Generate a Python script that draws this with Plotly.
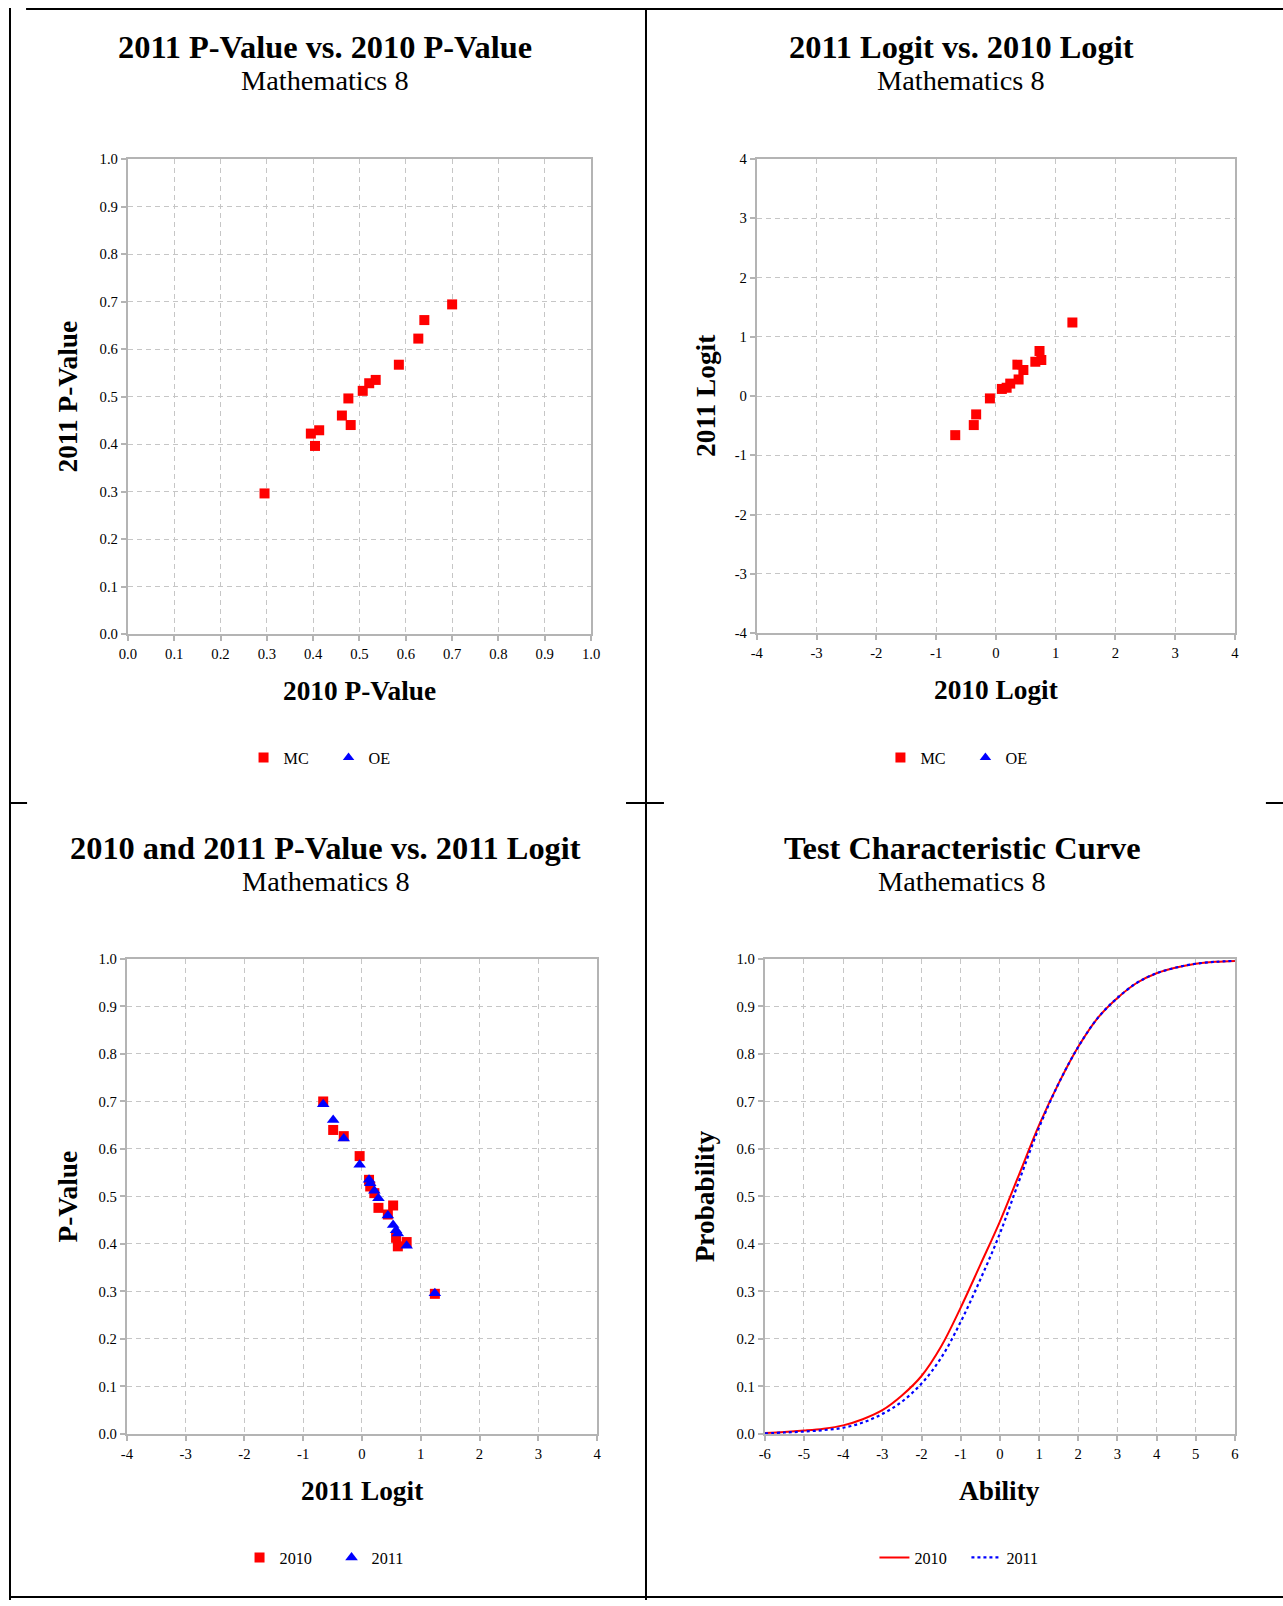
import plotly.graph_objects as go

# Figure fills the window; the photograph frames page pixel p at reference
# pixel (p + 8) * 1283/1299 (x) and (p + 8) * 1606/1622 (y), so reference
# pixel positions are converted with the inverse of that.
W, H = 1283, 1606
FRAME_W, FRAME_H = 1299, 1622
PAD = 8
FONT = "Liberation Serif, Times New Roman, serif"
K = FRAME_W / W   # font scale compensation

# ---------------- data ----------------
p2010 = [0.700, 0.640, 0.627, 0.585, 0.535, 0.521, 0.507, 0.476, 0.462, 0.481, 0.413, 0.395, 0.404, 0.295]
p2011 = [0.694, 0.661, 0.622, 0.567, 0.535, 0.528, 0.512, 0.496, 0.460, 0.440, 0.429, 0.422, 0.396, 0.296]
logit2010 = [-0.68, -0.37, -0.33, -0.10, 0.10, 0.18, 0.24, 0.38, 0.46, 0.36, 0.66, 0.76, 0.73, 1.28]
logit2011 = [-0.66, -0.49, -0.31, -0.04, 0.12, 0.14, 0.21, 0.28, 0.44, 0.53, 0.58, 0.61, 0.76, 1.24]
oe_x = [None]   # no OE items in this test
oe_y = [None]

ability = [-6.0, -5.5, -5.0, -4.5, -4.0, -3.5, -3.0, -2.5, -2.0, -1.5, -1.0, -0.5, 0.0,
           0.5, 1.0, 1.5, 2.0, 2.5, 3.0, 3.5, 4.0, 4.5, 5.0, 5.5, 6.0]
tcc2010 = [0.002, 0.004, 0.007, 0.011, 0.018, 0.031, 0.050, 0.081, 0.122, 0.184, 0.266, 0.356, 0.447,
           0.548, 0.650, 0.738, 0.815, 0.876, 0.918, 0.950, 0.970, 0.982, 0.990, 0.994, 0.996]
tcc2011 = [0.001, 0.003, 0.005, 0.008, 0.013, 0.024, 0.042, 0.068, 0.106, 0.160, 0.236, 0.325, 0.422,
           0.535, 0.645, 0.738, 0.815, 0.876, 0.918, 0.950, 0.970, 0.982, 0.990, 0.994, 0.996]

pv_ticks = [0.0, 0.1, 0.2, 0.3, 0.4, 0.5, 0.6, 0.7, 0.8, 0.9, 1.0]
pv_labels = ["0.0", "0.1", "0.2", "0.3", "0.4", "0.5", "0.6", "0.7", "0.8", "0.9", "1.0"]
logit_ticks = [-4, -3, -2, -1, 0, 1, 2, 3, 4]
logit_labels = ["-4", "-3", "-2", "-1", "0", "1", "2", "3", "4"]
ability_ticks = [-6, -5, -4, -3, -2, -1, 0, 1, 2, 3, 4, 5, 6]
ability_labels = ["-6", "-5", "-4", "-3", "-2", "-1", "0", "1", "2", "3", "4", "5", "6"]

titles = ["2011 P-Value vs. 2010 P-Value", "2011 Logit vs. 2010 Logit",
          "2010 and 2011 P-Value vs. 2011 Logit", "Test Characteristic Curve"]
subtitle = "Mathematics 8"
xtitles = ["2010 P-Value", "2010 Logit", "2011 Logit", "Ability"]
ytitles = ["2011 P-Value", "2011 Logit", "P-Value", "Probability"]

RED = "#ff0000"
BLUE = "#0000ff"


def fx(v):
    return (v * FRAME_W / W - PAD) / W


def fy(v):
    return 1 - (v * FRAME_H / H - PAD) / H


fig = go.Figure()

# panel 1
fig.add_trace(go.Scatter(x=p2010, y=p2011, mode="markers", name="MC",
                         marker=dict(symbol="square", size=10, color=RED),
                         xaxis="x", yaxis="y", legend="legend"))
fig.add_trace(go.Scatter(x=oe_x, y=oe_y, mode="markers", name="OE",
                         marker=dict(symbol="triangle-up", size=10, color=BLUE),
                         xaxis="x", yaxis="y", legend="legend"))
# panel 2
fig.add_trace(go.Scatter(x=logit2010, y=logit2011, mode="markers", name="MC",
                         marker=dict(symbol="square", size=10, color=RED),
                         xaxis="x2", yaxis="y2", legend="legend2"))
fig.add_trace(go.Scatter(x=oe_x, y=oe_y, mode="markers", name="OE",
                         marker=dict(symbol="triangle-up", size=10, color=BLUE),
                         xaxis="x2", yaxis="y2", legend="legend2"))
# panel 3
fig.add_trace(go.Scatter(x=logit2011, y=p2010, mode="markers", name="2010",
                         marker=dict(symbol="square", size=10, color=RED),
                         xaxis="x3", yaxis="y3", legend="legend3"))
fig.add_trace(go.Scatter(x=logit2011, y=p2011, mode="markers", name="2011",
                         marker=dict(symbol="triangle-up", size=11, color=BLUE),
                         xaxis="x3", yaxis="y3", legend="legend3"))
# panel 4
fig.add_trace(go.Scatter(x=ability, y=tcc2010, mode="lines", name="2010",
                         line=dict(color=RED, width=2, shape="spline"),
                         xaxis="x4", yaxis="y4", legend="legend4"))
fig.add_trace(go.Scatter(x=ability, y=tcc2011, mode="lines", name="2011",
                         line=dict(color=BLUE, width=2.2, dash="dot", shape="spline"),
                         xaxis="x4", yaxis="y4", legend="legend4"))

# plot areas in reference pixels: (left, right, top, bottom)
areas = [(127, 591, 159, 634), (757, 1236, 159, 633), (126, 597, 959, 1434), (765, 1236, 959, 1434)]
xranges = [[0, 1], [-4, 4], [-4, 4], [-6, 6]]
yranges = [[0, 1], [-4, 4], [0, 1], [0, 1]]
xticks = [(pv_ticks, pv_labels), (logit_ticks, logit_labels), (logit_ticks, logit_labels),
          (ability_ticks, ability_labels)]
yticks = [(pv_ticks, pv_labels), (logit_ticks, logit_labels), (pv_ticks, pv_labels),
          (pv_ticks, pv_labels)]

axis_common = dict(showline=True, mirror=True, linecolor="#b4b4b4", linewidth=2,
                   showgrid=True, gridcolor="#c6c6c6", gridwidth=1.3, griddash="5px,4px",
                   zeroline=False, ticks="outside", ticklen=5, tickwidth=1.5,
                   tickcolor="#b4b4b4", tickfont=dict(family=FONT, size=14.5 * K, color="#000000"),
                   tickmode="array", fixedrange=True)

layout = dict(width=W, height=H, margin=dict(l=0, r=0, t=0, b=0),
              paper_bgcolor="white", plot_bgcolor="white", showlegend=True,
              font=dict(family=FONT, color="black"))

for i, (l, r, t, b) in enumerate(areas):
    sfx = "" if i == 0 else str(i + 1)
    layout["xaxis" + sfx] = dict(axis_common, domain=[fx(l), fx(r)], range=xranges[i],
                                 tickvals=xticks[i][0], ticktext=xticks[i][1],
                                 anchor="y" + sfx)
    layout["yaxis" + sfx] = dict(axis_common, domain=[fy(b), fy(t)], range=yranges[i],
                                 tickvals=yticks[i][0], ticktext=yticks[i][1],
                                 anchor="x" + sfx)

legend_common = dict(orientation="h", xanchor="center", yanchor="middle",
                     font=dict(family=FONT, size=16 * K, color="black"),
                     bgcolor="rgba(0,0,0,0)", tracegroupgap=0, entrywidthmode="pixels")
layout["legend"] = dict(legend_common, x=fx(328), y=fy(758), entrywidth=40)
layout["legend2"] = dict(legend_common, x=fx(966), y=fy(758), entrywidth=40)
layout["legend3"] = dict(legend_common, x=fx(331), y=fy(1558), entrywidth=47)
layout["legend4"] = dict(legend_common, x=fx(967), y=fy(1558), entrywidth=47)

fig.update_layout(**layout)

annotations = []
title_centers = [(324, 47, 80), (962, 47, 80), (325, 848, 882), (963, 848, 882)]
for i, (cx, ty, sy) in enumerate(title_centers):
    annotations.append(dict(text=titles[i], x=fx(cx), y=fy(ty), xref="paper", yref="paper",
                            showarrow=False, xanchor="center", yanchor="middle",
                            font=dict(family=FONT, size=32 * K, color="black", weight="bold")))
    annotations.append(dict(text=subtitle, x=fx(cx), y=fy(sy), xref="paper", yref="paper",
                            showarrow=False, xanchor="center", yanchor="middle",
                            font=dict(family=FONT, size=28 * K, color="black")))

ytitle_x = [67, 706, 67, 706]
for i, (l, r, t, b) in enumerate(areas):
    annotations.append(dict(text=xtitles[i], x=fx((l + r) / 2), y=fy(b + 57), xref="paper", yref="paper",
                            showarrow=False, xanchor="center", yanchor="middle",
                            font=dict(family=FONT, size=27 * K, color="black", weight="bold")))
    annotations.append(dict(text=ytitles[i], x=fx(ytitle_x[i]), y=fy((t + b) / 2), xref="paper", yref="paper",
                            showarrow=False, xanchor="center", yanchor="middle", textangle=-90,
                            font=dict(family=FONT, size=27 * K, color="black", weight="bold")))

fig.update_layout(annotations=annotations)

# table borders of the page (reference pixels)
border = dict(color="black", width=2)
segments = [
    (25, 8.9, 1290, 8.9),        # top
    (8.9, 8, 8.9, 1600),         # left
    (646, 8, 646, 1600),         # middle
    (8.9, 1597, 1290, 1597),     # bottom
    (8.9, 803, 26, 803),         # divider stubs
    (626, 803, 664, 803),
    (1267, 803, 1290, 803),
]
shapes = [dict(type="line", xref="paper", yref="paper", x0=fx(a), y0=fy(b), x1=fx(c), y1=fy(d),
               line=border) for (a, b, c, d) in segments]
fig.update_layout(shapes=shapes)

fig.write_html("out.html", config={"displayModeBar": False},
               post_script="document.body.style.margin='0px';document.body.style.overflow='hidden';")
